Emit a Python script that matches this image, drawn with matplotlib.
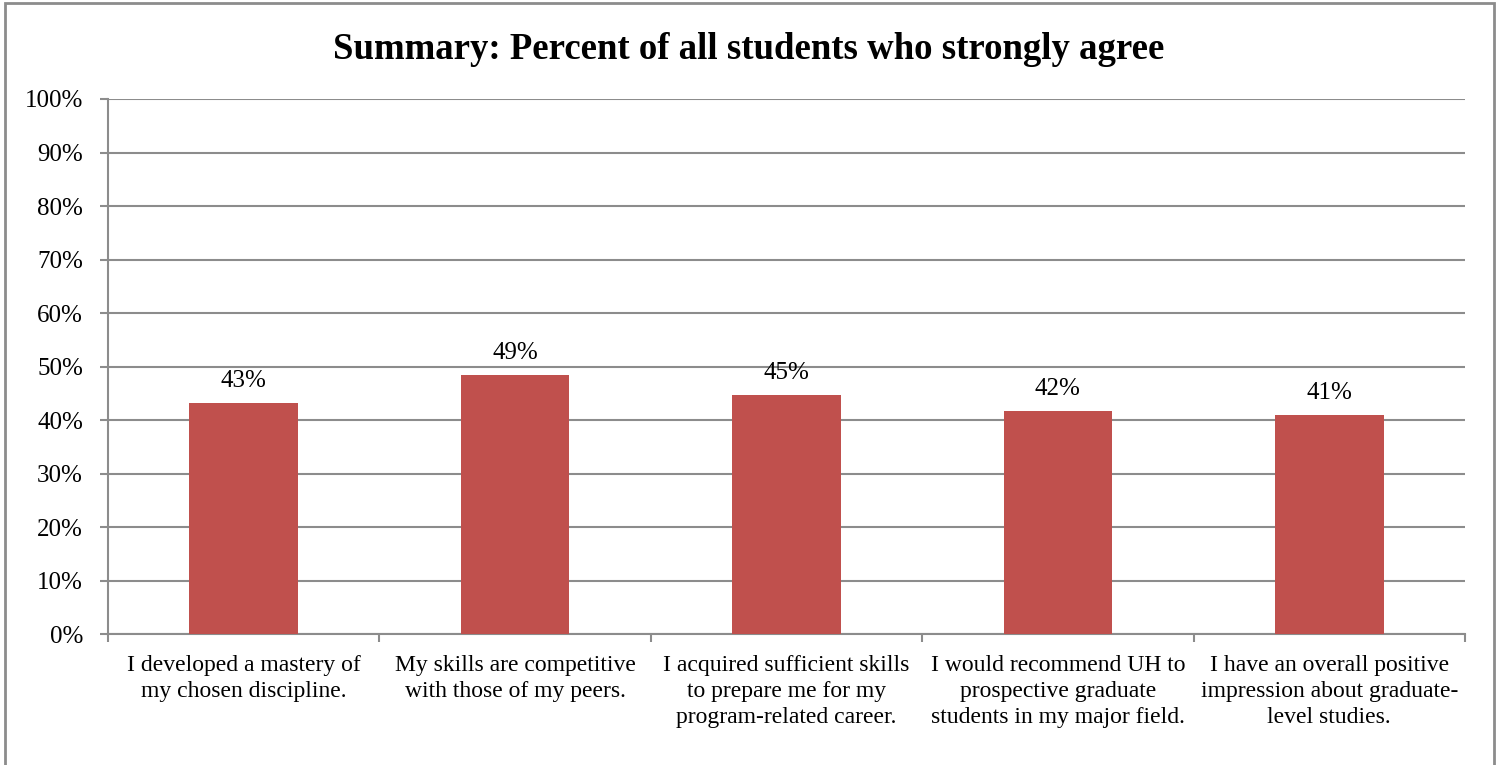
import matplotlib
matplotlib.use('Agg')
import matplotlib.pyplot as plt
import numpy as np
from matplotlib.patches import Rectangle

categories = ['I developed a mastery of\nmy chosen discipline.',
              'My skills are competitive\nwith those of my peers.',
              'I acquired sufficient skills\nto prepare me for my\nprogram-related career.',
              'I would recommend UH to\nprospective graduate\nstudents in my major field.',
              'I have an overall positive\nimpression about graduate-\nlevel studies.']
values = [43.2, 48.5, 44.7, 41.7, 40.9]
labels = ['43%', '49%', '45%', '42%', '41%']
yticks = [0, 10, 20, 30, 40, 50, 60, 70, 80, 90, 100]

plt.rcParams['font.family'] = ['Liberation Serif', 'DejaVu Serif']
grey = '#8c8c8c'

fig = plt.figure(figsize=(14.97, 7.65), dpi=100)
ax = fig.add_axes([0.0721, 0.1708, 0.9065, 0.6998])

x = np.arange(len(categories))
ax.bar(x, values, width=0.4, color='#C0504D', zorder=3)
for xi, v, lab in zip(x, values, labels):
    ax.annotate(lab, (xi, v), xytext=(0, 8), textcoords='offset points',
                ha='center', va='bottom', fontsize=18)

ax.set_xlim(-0.5, len(categories) - 0.5)
ax.set_ylim(0, 100)
ax.set_yticks(yticks)
ax.set_yticklabels(['%d%%' % t for t in yticks], fontsize=18)
ax.yaxis.grid(True, color=grey, lw=1.5, zorder=0)
ax.set_xticks(x)
ax.set_xticklabels(categories, fontsize=17, linespacing=1.32)
ax.set_xticks(np.arange(-0.5, len(categories)), minor=True)
ax.tick_params(axis='x', which='major', length=0, pad=15)
ax.tick_params(axis='x', which='minor', length=6, color=grey, width=1.5)
ax.tick_params(axis='y', length=6, color=grey, width=1.5, pad=12)

for s in ['top', 'right']:
    ax.spines[s].set_visible(False)
for s in ['left', 'bottom']:
    ax.spines[s].set_color(grey)
    ax.spines[s].set_linewidth(1.5)

fig.text(0.5, 0.935, 'Summary: Percent of all students who strongly agree',
         ha='center', va='center', fontsize=26.5, fontweight='bold')

fig.patches.append(Rectangle((5 / 1497, -0.05), 1489 / 1497, 1.05 - 3 / 765,
                             transform=fig.transFigure, fill=False,
                             edgecolor=grey, lw=2))

fig.savefig('out.png', dpi=100)
